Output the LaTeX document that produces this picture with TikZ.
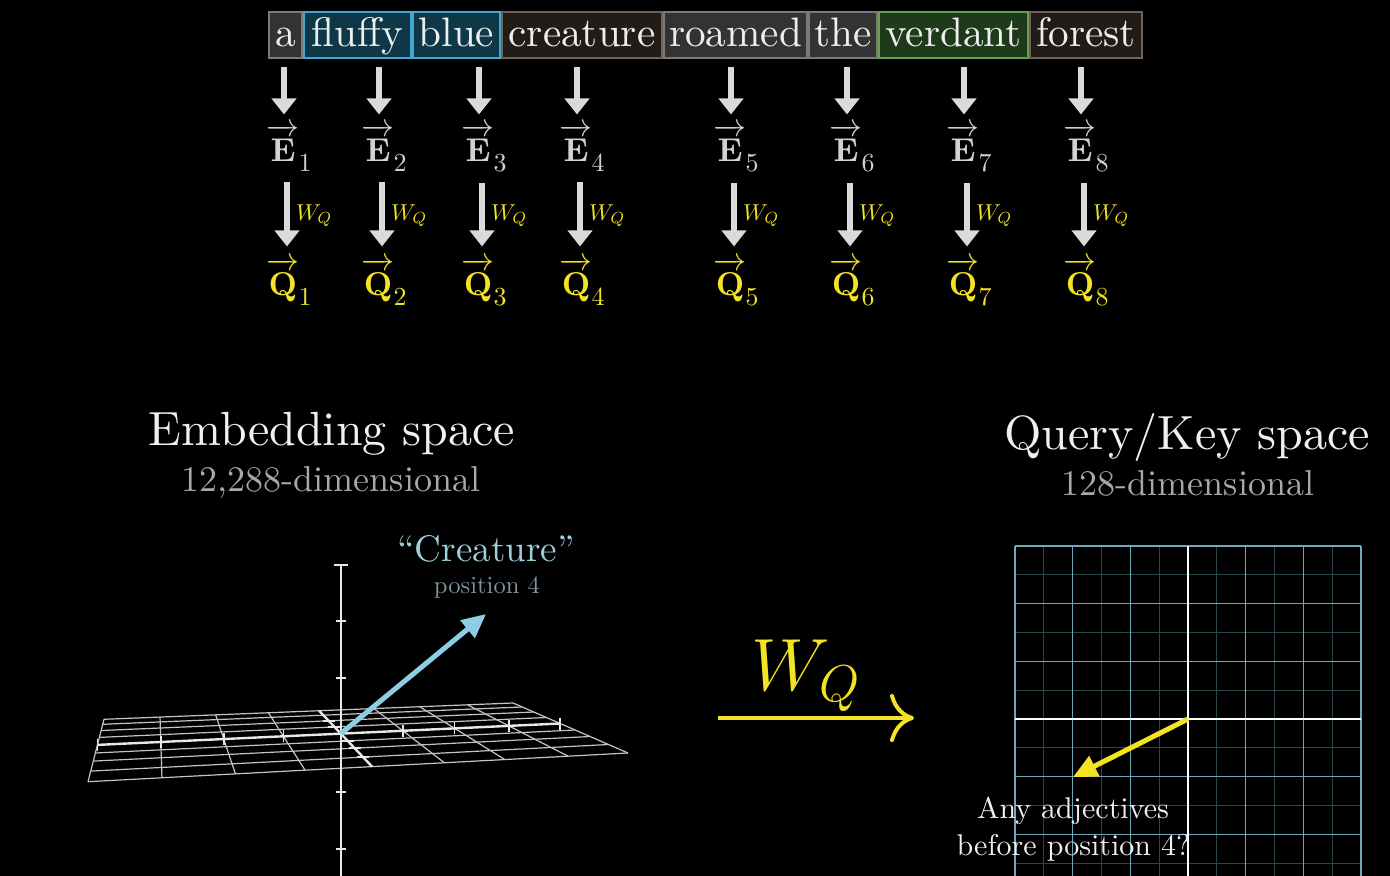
\RequirePackage{fix-cm}
\documentclass[tikz,border=0pt]{standalone}
\usepackage{fontspec}
\setmainfont{lmroman10-regular}[Extension=.otf, BoldFont=lmroman10-bold, ItalicFont=lmroman10-italic, BoldItalicFont=lmroman10-bolditalic]
\usetikzlibrary{arrows.meta,calc}
\definecolor{wordtext}{HTML}{EEEEEE}
\definecolor{greyfill}{HTML}{333333}
\definecolor{greyedge}{HTML}{7A7A7A}
\definecolor{bluefill}{HTML}{0E3848}
\definecolor{blueedge}{HTML}{45A6D2}
\definecolor{brownfill}{HTML}{221C19}
\definecolor{brownedge}{HTML}{6E6259}
\definecolor{greenfill}{HTML}{1F3A1B}
\definecolor{greenedge}{HTML}{66A04C}
\definecolor{arrowgrey}{HTML}{DADADA}
\definecolor{elabel}{HTML}{D2D2D2}
\definecolor{qyellow}{HTML}{F4E225}
\definecolor{titlewhite}{HTML}{F0F0F0}
\definecolor{subgrey}{HTML}{A8A8A8}
\definecolor{creblue}{HTML}{9ECFE0}
\definecolor{posgrey}{HTML}{7E979F}
\definecolor{vecblue}{HTML}{8ECDE6}
\definecolor{planegrey}{HTML}{C4C4C4}
\definecolor{axiswhite}{HTML}{E8E8E8}
\definecolor{gridmajor}{HTML}{6FA9B9}
\definecolor{gridminor}{HTML}{2C464E}
\newcommand{\subdigit}[1]{\kern-0.5pt\raisebox{-5pt}{\fontsize{13}{15}\selectfont #1}}
\newcommand{\vecbf}[1]{$\overrightarrow{\mathbf{#1}\rule{0pt}{13.5pt}}$}
\begin{document}
\begin{tikzpicture}[x=0.5pt,y=-0.5pt,
  word/.style={draw, line width=1pt, inner sep=0pt, text height=16pt, text depth=4pt,
    minimum height=23pt, font=\fontsize{20.6}{24}\selectfont, text=wordtext},
  greyword/.style={word, fill=greyfill, draw=greyedge},
  blueword/.style={word, fill=bluefill, draw=blueedge},
  brownword/.style={word, fill=brownfill, draw=brownedge},
  greenword/.style={word, fill=greenfill, draw=greenedge},
  elab/.style={inner sep=0pt, text=elabel, font=\fontsize{16.5}{19}\selectfont},
  qlab/.style={inner sep=0pt, text=qyellow, font=\fontsize{16.5}{19}\selectfont},
  bigarrow/.style={draw=arrowgrey, line width=3pt, -{Triangle[length=8pt,width=12pt]}},
  wqsmall/.style={text=qyellow, font=\fontsize{11.5}{13}\selectfont, inner xsep=3pt, inner ysep=0pt},
  title/.style={text=titlewhite, font=\fontsize{24}{28}\selectfont, inner sep=0pt},
  subtitle/.style={text=subgrey, font=\fontsize{18}{21}\selectfont, inner sep=0pt},
  planeline/.style={draw=planegrey, line width=0.6pt},
  axisthree/.style={draw=axiswhite, line width=1.2pt},
  tickline/.style={draw=axiswhite, line width=0.8pt},
  minorgrid/.style={draw=gridminor, line width=0.6pt},
  majorgrid/.style={draw=gridmajor, line width=0.7pt},
  gridaxis/.style={draw=white, line width=1.3pt},
  plaintext/.style={text=titlewhite, font=\fontsize{15}{18}\selectfont, inner sep=0pt}
]
\fill[black] (0,0) rectangle (1390,876);
\useasboundingbox (0,0) rectangle (1390,876);

% ---------- word boxes ----------
\node[greyword,  minimum width=16.5pt] (w1) at (285.5,35) {a};
\node[blueword,  minimum width=53.5pt] (w2) at (357.5,35) {fluffy};
\node[blueword,  minimum width=43.5pt] (w3) at (456.5,35) {blue};
\node[brownword, minimum width=80pt]   (w4) at (582,35)   {creature};
\node[greyword,  minimum width=71.5pt] (w5) at (735.5,35) {roamed};
\node[greyword,  minimum width=34pt]   (w6) at (843,35)   {the};
\node[greenword, minimum width=74.5pt] (w7) at (953.5,35) {verdant};
\node[brownword, minimum width=56pt]   (w8) at (1086,35)  {forest};

% ---------- E and Q columns ----------
\foreach \i/\x in {1/284,2/379,3/479,4/577,5/731,6/847,7/964,8/1081} {
  \node[elab, anchor=base] (E\i) at (\x+5,162) {\vecbf{E}\subdigit{\i}};
  \node[qlab, anchor=base] (Q\i) at (\x+5,296) {\vecbf{Q}\subdigit{\i}};
  \draw[bigarrow, shorten <=4pt, shorten >=5pt] ([xshift=-2.5pt]E\i.north |- w\i.south) -- ([xshift=-2.5pt]E\i.north);
  \draw[bigarrow, shorten <=5pt, shorten >=6pt] ([xshift=-1pt]E\i.south) -- node[right, wqsmall] {$W_Q$} ([xshift=-1pt]Q\i.north);
}

% ---------- titles ----------
\node[title, anchor=base] (embt) at (332,445) {Embedding space};
\node[subtitle, anchor=base] (embs) at (331,491) {12,288-dimensional};
\node[title, anchor=base] (qkt) at (1187,450) {Query/Key space};
\node[subtitle, anchor=base] (qks) at (1188,495) {128-dimensional};

% ---------- 3D embedding plane ----------
\coordinate (BL) at (104,719.3);
\coordinate (FL) at (88,781.7);
\coordinate (BR) at (513,703);
\coordinate (FR) at (628,753);
\foreach \v in {0,0.08,0.18,0.29,0.54,0.67,0.83,1}
  \draw[planeline] ($(BL)!\v!(FL)$) -- ($(BR)!\v!(FR)$);
\foreach \u [count=\c] in {0,0.137,0.273,0.402,0.526,0.66,0.772,0.889,1} {
  \coordinate (cb\c) at ($(BL)!\u!(BR)$);
  \coordinate (cf\c) at ($(FL)!\u!(FR)$);
}
\foreach \c in {1,2,3,4,6,7,8,9}
  \draw[planeline] (cb\c) -- (cf\c);
\coordinate (xl) at ($(BL)!0.41!(FL)$);
\coordinate (xr) at ($(BR)!0.41!(FR)$);
\draw[axisthree] (xl) -- (xr);
\foreach \c in {1,2,3,4,6,7,8,9} {
  \coordinate (tk\c) at ($(cb\c)!0.41!(cf\c)$);
  \draw[tickline] ([yshift=3pt]tk\c) -- ([yshift=-3pt]tk\c);
}
\draw[axisthree] (cb5) -- (cf5);
\foreach \v [count=\n] in {0.18,0.29,0.54,0.67,0.83} {
  \coordinate (zt\n) at ($(cb5)!\v!(cf5)$);
  \draw[tickline] ([xshift=-3pt]zt\n) -- ([xshift=3pt]zt\n);
}
\coordinate (O) at ($(cb5)!0.41!(cf5)$);
\coordinate (vt) at (0,565);
\coordinate (vb) at (0,876);
\coordinate (vtop) at (O |- vt);
\draw[axisthree] (vtop) -- (O |- vb);
\draw[tickline] ([xshift=-3.5pt]vtop) -- ([xshift=3.5pt]vtop);
\foreach \yy [count=\n] in {621,678,792,849} {
  \coordinate (vy\n) at (0,\yy);
  \coordinate (vk\n) at (O |- vy\n);
  \draw[tickline] ([xshift=-2.5pt]vk\n) -- ([xshift=2.5pt]vk\n);
}
\coordinate (ctip) at (486,614);
\draw[draw=vecblue, line width=2.5pt, -{Triangle[length=12pt,width=11pt]}] (O) -- (ctip);
\node[text=creblue, font=\fontsize{18.5}{22}\selectfont, inner sep=0pt, anchor=base] (cre) at (486,561) {``Creature''};
\node[text=posgrey, font=\fontsize{12.3}{15}\selectfont, inner sep=0pt, anchor=base] (pos) at (487,593) {position 4};

% ---------- W_Q big arrow ----------
\coordinate (wqa) at (718,718);
\coordinate (wqb) at (914,718);
\draw[draw=qyellow, line width=2pt, -{To[length=12pt,width=24pt]}] (wqa) -- (wqb);
\node[text=qyellow, font=\fontsize{37}{40}\selectfont, inner sep=0pt, anchor=base] (wqlab) at (806,690) {$W_Q$};

% ---------- Query/Key grid ----------
\begin{scope}
\clip (1000,540) rectangle (1390,876);
\foreach \k in {0.5,1.5,2.5,3.5,4.5,5.5}
  \draw[minorgrid] (1015+\k*57.667,546) -- (1015+\k*57.667,876);
\foreach \k in {-2.5,-1.5,-0.5,0.5,1.5,2.5}
  \draw[minorgrid] (1015,719+\k*57.667) -- (1361,719+\k*57.667);
\foreach \k in {0,1,2,4,5,6}
  \draw[majorgrid] (1015+\k*57.667,546) -- (1015+\k*57.667,876);
\foreach \k in {-3,-2,-1,1,2,3}
  \draw[majorgrid] (1015,719+\k*57.667) -- (1361,719+\k*57.667);
\draw[gridaxis] (1015,719) -- (1361,719);
\draw[gridaxis] (1188,546) -- (1188,876);
\end{scope}
\coordinate (qo) at (1188,719);
\coordinate (qt) at (1073,777);
\draw[draw=qyellow, line width=2.5pt, -{Triangle[length=12pt,width=11pt]}] (qo) -- (qt);
\node[plaintext, anchor=base] (adj1) at (1073,818) {Any adjectives};
\node[plaintext, anchor=base] (adj2) at (1073.5,855) {before position 4?};
\end{tikzpicture}
\end{document}
